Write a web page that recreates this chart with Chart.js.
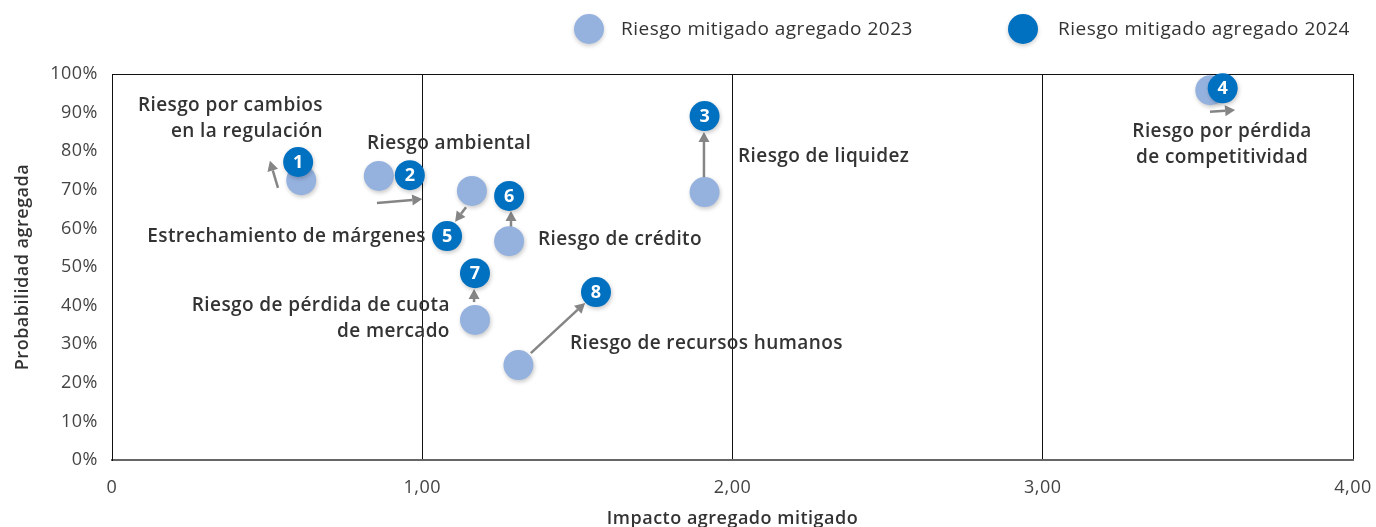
<!DOCTYPE html>
<html><head><meta charset="utf-8">
<script src="https://cdn.jsdelivr.net/npm/chart.js@4.4.1/dist/chart.umd.min.js"></script>
<style>html,body{margin:0;padding:0;background:#fff}canvas{display:block}</style>
</head><body>
<canvas id="c" width="1376" height="527"></canvas>
<script>
// ---- data ----
const riskIds = ['1','2','3','4','5','6','7','8'];
const impact2023 = [0.61, 0.86, 1.91, 3.54, 1.16, 1.28, 1.17, 1.31];
const prob2023   = [72.5, 73.6, 69.4, 95.8, 69.7, 56.7, 36.3, 24.6];
const impact2024 = [0.60, 0.96, 1.91, 3.58, 1.08, 1.28, 1.17, 1.56];
const prob2024   = [77.2, 73.8, 89.1, 96.3, 58.0, 68.4, 48.4, 43.5];
const seriesNames = ['Riesgo mitigado agregado 2023', 'Riesgo mitigado agregado 2024'];
const xTicks = [0, 1, 2, 3, 4];
const xTickLabels = ['0', '1,00', '2,00', '3,00', '4,00'];
const yTicks = [0,10,20,30,40,50,60,70,80,90,100];
const yTickLabels = ['0%','10%','20%','30%','40%','50%','60%','70%','80%','90%','100%'];
const xTitle = 'Impacto agregado mitigado';
const yTitle = 'Probabilidad agregada';
// annotation labels: text lines, anchor (data units), alignment
const labelLines = [
  ['Riesgo por cambios','en la regulación'],
  ['Riesgo ambiental'],
  ['Riesgo de liquidez'],
  ['Riesgo por pérdida','de competitividad'],
  ['Estrechamiento de márgenes'],
  ['Riesgo de crédito'],
  ['Riesgo de pérdida de cuota','de mercado'],
  ['Riesgo de recursos humanos']
];
const labelX = [0.68, 0.822, 2.018, 3.578, 1.012, 1.373, 1.089, 1.476];
const labelY = [91.7, 82.1, 78.5, 85.2, 58.0, 57.0, 39.9, 30.1];
const labelAlign = ['right','left','left','center','right','left','right','left'];
// arrows (data units): start -> end
const arrowX0 = [0.535, 0.854, 1.908, 3.539, 1.141, 1.286, 1.167, 1.35];
const arrowY0 = [70.5, 66.6, 73.1, 90.2, 65.5, 60.4, 40.9, 27.7];
const arrowX1 = [0.509, 1.0, 1.908, 3.62, 1.106, 1.286, 1.167, 1.525];
const arrowY1 = [77.5, 67.6, 85.0, 90.7, 61.7, 64.5, 44.3, 40.7];

// ---- styles ----
const LIGHT = '#95B2DF';
const DARK = '#0070C0';
const FONT = "'Open Sans', 'Noto Sans', sans-serif";
const TEXT = '#333333';

const toPts = (xs, ys) => xs.map((x, i) => ({x, y: ys[i]}));

const spacingPlugin = {
  id: 'spacing',
  beforeDraw(chart) { chart.ctx.letterSpacing = '0.5px'; },
  afterDraw(chart) { chart.ctx.letterSpacing = '0px'; }
};

const shadowPlugin = {
  id: 'shadow',
  beforeDatasetDraw(chart) {
    const ctx = chart.ctx; ctx.save();
    ctx.shadowColor = 'rgba(0,0,0,0.22)'; ctx.shadowBlur = 4; ctx.shadowOffsetX = 1; ctx.shadowOffsetY = 2;
  },
  afterDatasetDraw(chart) { chart.ctx.restore(); }
};

const arrowPlugin = {
  id: 'arrows',
  beforeDatasetsDraw(chart) {
    const {ctx, scales: {x, y}} = chart;
    ctx.save();
    ctx.strokeStyle = '#858585'; ctx.fillStyle = '#858585'; ctx.lineWidth = 2.5;
    for (let i = 0; i < arrowX0.length; i++) {
      const x0 = x.getPixelForValue(arrowX0[i]), y0 = y.getPixelForValue(arrowY0[i]);
      const x1 = x.getPixelForValue(arrowX1[i]), y1 = y.getPixelForValue(arrowY1[i]);
      const a = Math.atan2(y1 - y0, x1 - x0);
      const hl = 10, hw = 5.5;
      const bx = x1 - hl * Math.cos(a), by = y1 - hl * Math.sin(a);
      ctx.beginPath(); ctx.moveTo(x0, y0); ctx.lineTo(bx, by); ctx.stroke();
      ctx.beginPath();
      ctx.moveTo(x1, y1);
      ctx.lineTo(bx + hw * Math.sin(a), by - hw * Math.cos(a));
      ctx.lineTo(bx - hw * Math.sin(a), by + hw * Math.cos(a));
      ctx.closePath(); ctx.fill();
    }
    ctx.restore();
  }
};

const overlayPlugin = {
  id: 'overlay',
  afterDatasetsDraw(chart) {
    const {ctx, scales: {x, y}} = chart;
    ctx.save();
    const meta = chart.getDatasetMeta(1);
    ctx.fillStyle = '#ffffff';
    ctx.letterSpacing = '0px';
    ctx.font = "bold 18px " + FONT;
    ctx.textAlign = 'center'; ctx.textBaseline = 'middle';
    meta.data.forEach((pt, i) => ctx.fillText(riskIds[i], pt.x, pt.y + 1));
    ctx.fillStyle = TEXT;
    ctx.letterSpacing = '0.4px';
    ctx.font = "600 19px " + FONT;
    for (let i = 0; i < labelLines.length; i++) {
      const px = x.getPixelForValue(labelX[i]), py = y.getPixelForValue(labelY[i]);
      ctx.textAlign = labelAlign[i];
      labelLines[i].forEach((t, k) => ctx.fillText(t, px, py + k * 26));
    }
    ctx.restore();
  }
};

const legendPlugin = {
  id: 'customLegend',
  afterDraw(chart) {
    const ctx = chart.ctx;
    ctx.save();
    const items = [{c: LIGHT, cx: 589, tx: 621}, {c: DARK, cx: 1023, tx: 1058}];
    ctx.letterSpacing = '0.5px';
    ctx.font = "19px " + FONT;
    ctx.textBaseline = 'middle'; ctx.textAlign = 'left';
    items.forEach((it, i) => {
      ctx.save();
      ctx.shadowColor = 'rgba(0,0,0,0.2)'; ctx.shadowBlur = 4; ctx.shadowOffsetY = 2;
      ctx.beginPath(); ctx.arc(it.cx, 29, 15, 0, Math.PI * 2); ctx.fillStyle = it.c; ctx.fill();
      ctx.restore();
      ctx.fillStyle = TEXT;
      ctx.fillText(seriesNames[i], it.tx, 30);
    });
    ctx.restore();
  }
};

new Chart(document.getElementById('c'), {
  type: 'scatter',
  data: {
    datasets: [
      {label: seriesNames[0], data: toPts(impact2023, prob2023), backgroundColor: LIGHT, borderWidth: 0,
       pointRadius: 15, pointHoverRadius: 15, order: 2, clip: false},
      {label: seriesNames[1], data: toPts(impact2024, prob2024), backgroundColor: DARK, borderWidth: 0,
       pointRadius: 15, pointHoverRadius: 15, order: 1, clip: false}
    ]
  },
  options: {
    responsive: false,
    animation: false,
    events: [],
    layout: {padding: {top: 74, right: 23, left: 0, bottom: 0}},
    plugins: {legend: {display: false}, tooltip: {enabled: false}},
    scales: {
      x: {
        type: 'linear', min: 0, max: 4,
        afterBuildTicks: s => { s.ticks = xTicks.map(v => ({value: v})); },
        afterFit: s => { s.height = 67; s.paddingRight = 0; s.paddingLeft = 0; },
        ticks: {
          padding: 17, color: '#444',
          font: {family: FONT, size: 18},
          callback: (v) => xTickLabels[xTicks.indexOf(v)]
        },
        grid: {color: '#111', lineWidth: 1, drawTicks: false, z: 0},
        border: {color: '#666', width: 2},
        title: {display: true, text: xTitle, color: TEXT, font: {family: FONT, size: 18, weight: '600'}, padding: {top: 4, bottom: -3}}
      },
      y: {
        type: 'linear', min: 0, max: 100,
        afterBuildTicks: s => { s.ticks = yTicks.map(v => ({value: v})); },
        afterFit: s => { s.width = 112; },
        ticks: {
          padding: 14, color: '#444',
          font: {family: FONT, size: 18},
          callback: (v) => yTickLabels[yTicks.indexOf(v)]
        },
        grid: {color: ctx => (ctx.tick && ctx.tick.value === 100 ? '#111' : 'rgba(0,0,0,0)'), drawTicks: false},
        border: {color: '#111', width: 1},
        title: {display: true, text: yTitle, color: TEXT, font: {family: FONT, size: 18, weight: '600'}, padding: {top: 12, bottom: 0}}
      }
    }
  },
  plugins: [spacingPlugin, shadowPlugin, arrowPlugin, overlayPlugin, legendPlugin]
});
</script>
</body></html>
